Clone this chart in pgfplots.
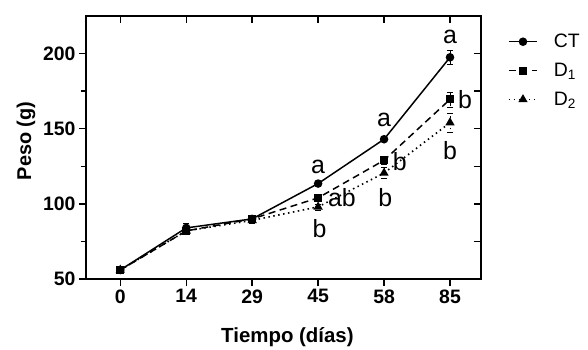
\documentclass[border=0pt]{standalone}
\usepackage{fontspec}
\setmainfont{Liberation Sans}
\usepackage{pgfplots}
\pgfplotsset{compat=1.18}
\pgfplotstableread{
x y e
0 56 1
1 84 3
2 90 2
3 113.5 1.5
4 143 1.5
5 197.5 4.5
}\ct
\pgfplotstableread{
x y e
0 56 1
1 82 2
2 90 2
3 104 2.5
4 129 2.5
5 169.5 5
}\done
\pgfplotstableread{
x y e
0 56 1
1 82 2
2 89 2
3 98 2
4 120.5 3.5
5 154 6.5
}\dtwo
\begin{document}
\begin{tikzpicture}
\begin{axis}[
 scale only axis, width=395bp, height=263bp,
 xmin=-0.52, xmax=5.47, ymin=50, ymax=225,
 axis line style={line width=2pt},
 xtick={0,...,5}, xticklabels={0,14,29,45,58,85},
 ytick={50,100,150,200}, minor ytick={75,125,175},
 xtick pos=left, ytick pos=left, tick align=outside,
 major tick length=7bp, minor tick length=5bp,
 tick style={line width=1.4pt, black},
 ticklabel style={font=\fontsize{19.5}{22}\selectfont\bfseries},
 /pgf/number format/assume math mode=true,
 xlabel={\fontsize{20.5}{24}\selectfont\bfseries Tiempo (días)},
 ylabel={\fontsize{20}{24}\selectfont\bfseries Peso (g)},
 xlabel style={at={(axis description cs:0.51,-0.22)}, anchor=center},
 ylabel style={at={(axis description cs:-0.152,0.525)}, anchor=center},
 clip=false,
 legend cell align=left,
 legend style={draw=none, fill=none, at={(1,1)}, anchor=north west, xshift=24bp, yshift=-14bp,
   font=\fontsize{19.5}{22}\selectfont, row sep=10bp,
   /tikz/every odd column/.append style={column sep=14bp}},
 legend image code/.code={\draw[mark repeat=2,mark phase=2] plot coordinates {(0bp,0bp)(14bp,0bp)(28bp,0bp)};},
 error bars/error bar style={line width=0.7pt, black},
 error bars/error mark options={rotate=90, mark size=3bp, line width=0.7pt, black},
]
\addplot[black, line width=1.5pt, mark=*, mark size=3.5bp, mark options={solid},
  error bars/.cd, y dir=both, y explicit] table[x=x, y=y, y error=e] {\ct};
\addlegendentry{CT}
\addplot[black, line width=1.5pt, dash pattern=on 7bp off 4.5bp, mark=square*, mark size=3.3bp, mark options={solid},
  error bars/.cd, y dir=both, y explicit] table[x=x, y=y, y error=e] {\done};
\addlegendentry{D\textsubscript{1}}
\addplot[black, line width=1.6pt, dash pattern=on 1.5bp off 3.5bp, mark=triangle*, mark size=3.8bp, mark options={solid},
  error bars/.cd, y dir=both, y explicit] table[x=x, y=y, y error=e] {\dtwo};
\addlegendentry{D\textsubscript{2}}
\begin{scope}[font=\fontsize{25}{28}\selectfont]
\node at (axis cs:3,124.5) {a};
\node at (axis cs:3.36,104.4) {ab};
\node at (axis cs:3.02,83.5) {b};
\node at (axis cs:4,156) {a};
\node at (axis cs:4.24,128.3) {b};
\node at (axis cs:4.02,104) {b};
\node at (axis cs:5,211) {a};
\node at (axis cs:5.23,169.4) {b};
\node at (axis cs:5,135.3) {b};
\end{scope}
\end{axis}
\begin{axis}[
 scale only axis, width=395bp, height=263bp,
 xmin=-0.52, xmax=5.47, ymin=50, ymax=225,
 axis line style={draw=none},
 xtick={0,...,5}, xticklabels={},
 ytick={50,100,150,200}, minor ytick={75,125,175}, yticklabels={},
 xtick pos=right, ytick pos=right, tick align=inside,
 major tick length=7bp, minor tick length=7bp,
 tick style={line width=1.4pt, black},
]
\end{axis}
\path (0,0) ++(-86bp,-71bp) rectangle ++(588bp,350bp);
\end{tikzpicture}
\end{document}
